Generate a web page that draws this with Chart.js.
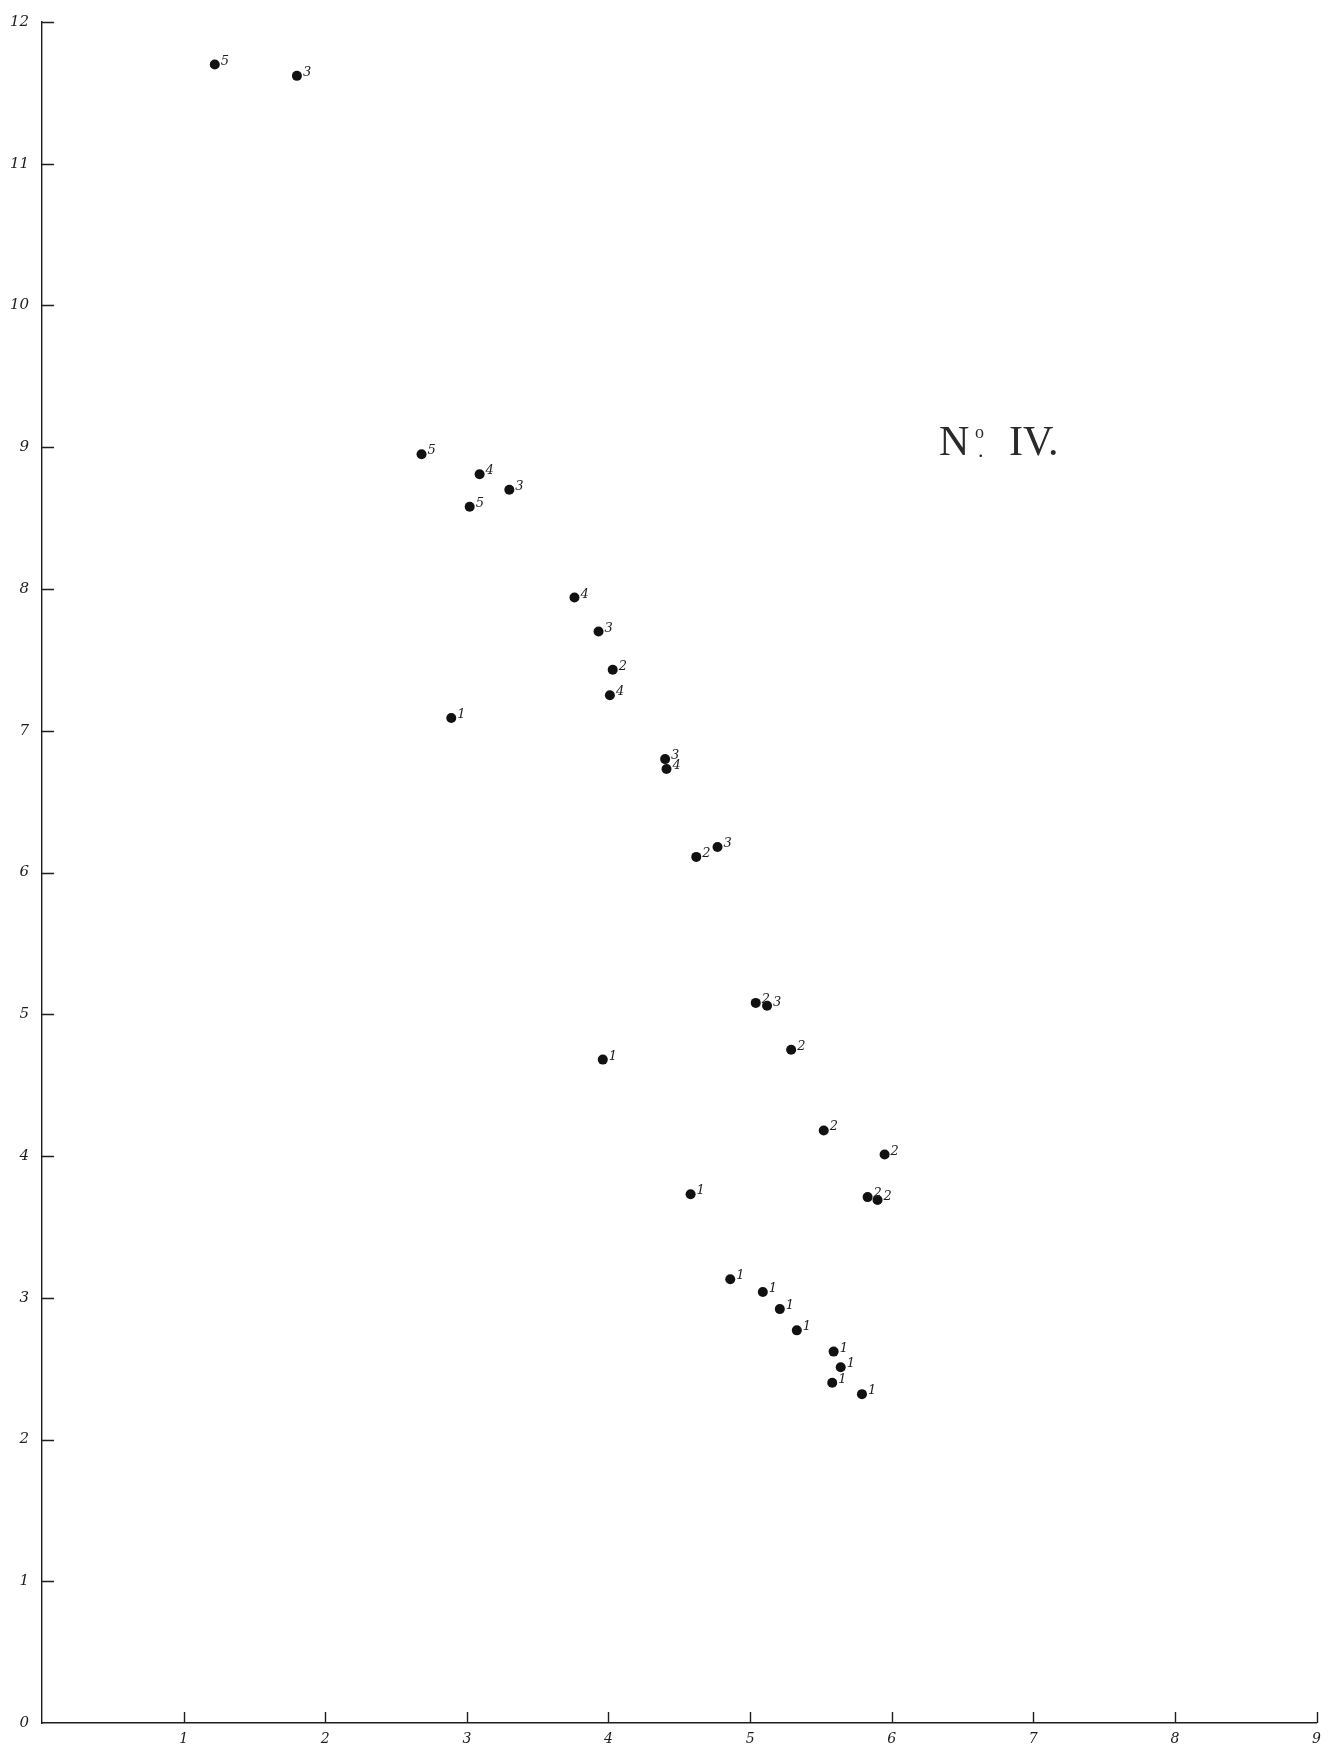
<!DOCTYPE html>
<html>
<head>
<meta charset="utf-8">
<title>No. IV</title>
<script src="https://cdn.jsdelivr.net/npm/chart.js@4.4.1/dist/chart.umd.min.js"></script>
<style>
  html, body { margin: 0; padding: 0; background: #fff; }
  #wrap { width: 1329px; height: 1745px; }
</style>
</head>
<body>
<div id="wrap"><canvas id="plot" width="1329" height="1745"></canvas></div>
<script>
// ---------------------------------------------------------
// Data
// ---------------------------------------------------------
const pointX = [
  1.22, 1.80,
  2.68, 3.09, 3.30, 3.02, 3.76, 3.93, 4.03, 4.01, 2.89,
  4.40, 4.41, 4.62, 4.77, 5.04, 5.12, 5.29, 3.96,
  5.52, 5.95, 5.83, 5.90, 4.58,
  4.86, 5.09, 5.21, 5.33, 5.59, 5.64, 5.58, 5.79
];
const pointY = [
  11.70, 11.62,
  8.95, 8.81, 8.70, 8.58, 7.94, 7.70, 7.43, 7.25, 7.09,
  6.80, 6.73, 6.11, 6.18, 5.08, 5.06, 4.75, 4.68,
  4.18, 4.01, 3.71, 3.69, 3.73,
  3.13, 3.04, 2.92, 2.77, 2.62, 2.51, 2.40, 2.32
];
const pointTag = [
  '5', '3',
  '5', '4', '3', '5', '4', '3', '2', '4', '1',
  '3', '4', '2', '3', '2', '3', '2', '1',
  '2', '2', '2', '2', '1',
  '1', '1', '1', '1', '1', '1', '1', '1'
];
const xTicks = [1, 2, 3, 4, 5, 6, 7, 8, 9];
const yTicks = [0, 1, 2, 3, 4, 5, 6, 7, 8, 9, 10, 11, 12];
const plateTitle = 'IV.';

const INK = '#1d1d1d';
const HAND = '"DejaVu Serif", "Liberation Serif", serif';

// ---------------------------------------------------------
// Small plugins: inner tick marks, point tags, plate title
// ---------------------------------------------------------
const innerTicks = {
  id: 'innerTicks',
  afterDraw(chart) {
    const { ctx, chartArea, scales } = chart;
    ctx.save();
    ctx.strokeStyle = INK;
    ctx.lineWidth = 1.4;
    ctx.beginPath();
    yTicks.forEach(v => {
      if (v === 0) return;
      const py = Math.round(scales.y.getPixelForValue(v)) + 0.5;
      ctx.moveTo(chartArea.left, py);
      ctx.lineTo(chartArea.left + 12, py);
    });
    xTicks.forEach(v => {
      const px = Math.round(scales.x.getPixelForValue(v)) + 0.5;
      ctx.moveTo(px, chartArea.bottom);
      ctx.lineTo(px, chartArea.bottom - 11);
    });
    ctx.stroke();
    ctx.restore();
  }
};

const pointTags = {
  id: 'pointTags',
  afterDatasetsDraw(chart) {
    const { ctx } = chart;
    const meta = chart.getDatasetMeta(0);
    ctx.save();
    ctx.fillStyle = INK;
    ctx.font = 'italic 13px ' + HAND;
    ctx.textAlign = 'left';
    ctx.textBaseline = 'alphabetic';
    meta.data.forEach((el, i) => {
      ctx.fillText(pointTag[i], el.x + 6, el.y);
    });
    ctx.restore();
  }
};

const plateLabel = {
  id: 'plateLabel',
  afterDraw(chart) {
    const { ctx } = chart;
    ctx.save();
    ctx.fillStyle = '#2a2a2a';
    ctx.textBaseline = 'alphabetic';
    ctx.textAlign = 'left';
    ctx.font = '42px "Liberation Serif", "DejaVu Serif", serif';
    ctx.fillText('N', 939, 455);
    ctx.font = '18px "Liberation Serif", "DejaVu Serif", serif';
    ctx.fillText('o', 975, 438);
    ctx.font = '22px "Liberation Serif", "DejaVu Serif", serif';
    ctx.fillText('.', 978, 457);
    ctx.font = '42px "Liberation Serif", "DejaVu Serif", serif';
    ctx.fillText(plateTitle, 1009, 455);
    ctx.restore();
  }
};

// ---------------------------------------------------------
// Chart
// ---------------------------------------------------------
const points = pointX.map((x, i) => ({ x: x, y: pointY[i] }));

new Chart(document.getElementById('plot'), {
  type: 'scatter',
  data: {
    datasets: [{
      data: points,
      pointRadius: 5,
      pointHoverRadius: 5,
      pointBackgroundColor: '#111',
      pointBorderColor: '#111',
      pointBorderWidth: 0
    }]
  },
  options: {
    responsive: false,
    animation: false,
    devicePixelRatio: 1,
    layout: { padding: { top: 18, right: 8, bottom: 0, left: 0 } },
    plugins: {
      legend: { display: false },
      tooltip: { enabled: false }
    },
    scales: {
      x: {
        type: 'linear',
        min: 0,
        max: 9,
        afterFit: (scale) => { scale.height = 22; },
        afterBuildTicks: (scale) => { scale.ticks = xTicks.map(v => ({ value: v })); },
        grid: { display: false, drawTicks: false },
        border: { display: true, color: INK, width: 1.4 },
        ticks: {
          padding: 8,
          color: INK,
          font: { family: HAND, style: 'italic', size: 14 },
          maxRotation: 0,
          autoSkip: false
        }
      },
      y: {
        type: 'linear',
        min: 0,
        max: 12,
        afterFit: (scale) => { scale.width = 42; },
        afterBuildTicks: (scale) => { scale.ticks = yTicks.map(v => ({ value: v })); },
        grid: { display: false, drawTicks: false },
        border: { display: true, color: INK, width: 1.4 },
        ticks: {
          padding: 13,
          color: INK,
          font: { family: HAND, style: 'italic', size: 15 },
          autoSkip: false
        }
      }
    }
  },
  plugins: [innerTicks, pointTags, plateLabel]
});
</script>
</body>
</html>
